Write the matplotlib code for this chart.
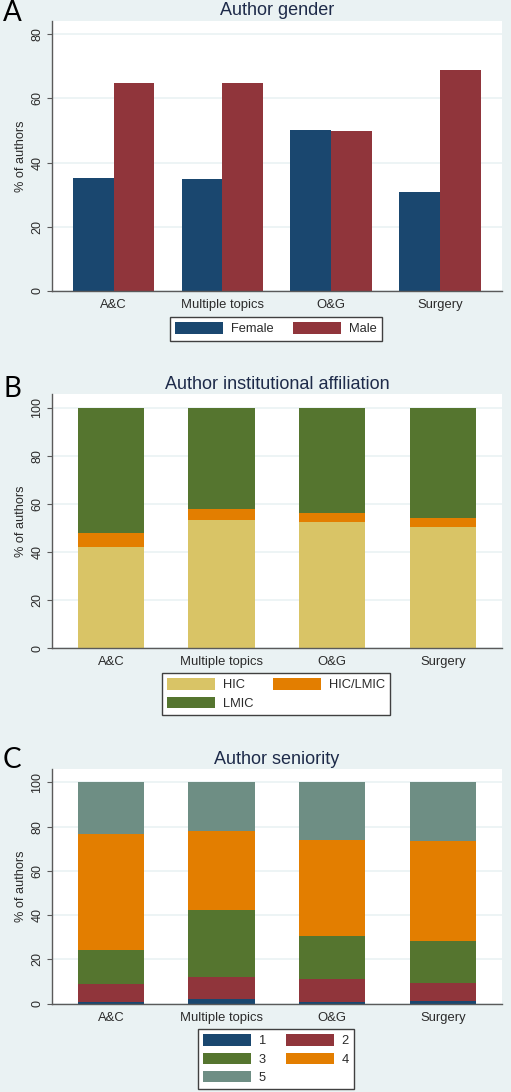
import numpy as np
import matplotlib.pyplot as plt

plt.rcParams['font.family'] = ['Liberation Sans', 'DejaVu Sans']

# ---------------------------------------------------------------#
# data
topics = ['A&C', 'Multiple topics', 'O&G', 'Surgery']

# A  author gender (%)
female = [35.2, 35.0, 50.2, 30.9]
male = [64.7, 64.9, 49.7, 68.9]

# B  institutional affiliation (%)
hic = [42.2, 53.4, 52.4, 50.4]
hic_lmic = [5.8, 4.4, 3.8, 3.8]
lmic = [52.0, 42.2, 43.8, 45.8]

# C  seniority (%)
sen_labels = ['1', '2', '3', '4', '5']
sen1 = [0.9, 2.1, 0.8, 1.2]
sen2 = [7.9, 9.8, 10.4, 8.1]
sen3 = [15.5, 30.4, 19.5, 18.9]
sen4 = [52.2, 35.7, 43.4, 45.1]
sen5 = [23.5, 22.0, 25.9, 26.7]

# ---------------------------------------------------------------#
bg = '#EAF2F3'
navy, maroon, green, orange, teal = '#1A476F', '#90353B', '#55752F', '#E37E00', '#6E8E84'
sand = '#D9C466'
axcol = '#5a5a5a'
txtcol = '#2b2b2b'

W, H = 511, 1092
fig = plt.figure(figsize=(W / 100, H / 100), dpi=100, facecolor=bg)


def px_axes(l, t, r, b):
    return fig.add_axes([l / W, 1 - b / H, (r - l) / W, (b - t) / H])


def style(ax, ymax, ticks, title):
    ax.set_facecolor('white')
    ax.set_ylim(0, ymax)
    ax.set_yticks(ticks)
    ax.yaxis.grid(True, color=bg, lw=1.2)
    ax.set_axisbelow(True)
    for s in ['top', 'right']:
        ax.spines[s].set_visible(False)
    for s in ['left', 'bottom']:
        ax.spines[s].set_color(axcol)
        ax.spines[s].set_linewidth(1)
    ax.tick_params(axis='y', length=3.6, width=0.8, color=axcol, labelsize=9,
                   labelcolor=txtcol, pad=2.5, labelrotation=90)
    for lab in ax.get_yticklabels():
        lab.set_va('center')
    ax.set_xticks(range(len(topics)))
    ax.set_xticklabels(topics)
    ax.tick_params(axis='x', length=0, labelsize=9.4, labelcolor=txtcol, pad=6)
    ax.set_ylabel('% of authors', fontsize=9.2, color=txtcol)
    ax.yaxis.set_label_coords(-0.054, 0.5)
    ax.set_title(title, fontsize=13, color='#1e2b4a', pad=4)


def legend(handles, labels, cx, top, ncol=2):
    lg = fig.legend(handles, labels, loc='upper center', bbox_to_anchor=(cx / W, 1 - top / H),
                    ncol=ncol, fontsize=9.3, handlelength=3.7, handleheight=1.0,
                    handletextpad=0.6, columnspacing=1.55, labelspacing=0.4,
                    borderpad=0.4, borderaxespad=0, fancybox=False, framealpha=1,
                    edgecolor='#404040')
    lg.get_frame().set_linewidth(1)
    for t in lg.get_texts():
        t.set_color(txtcol)
    return lg


x = np.arange(len(topics))

#------------------------------------------------------------------#
# A  gender
ax = px_axes(51.7, 21, 502, 291)
w = 0.375
b1 = ax.bar(x - w / 2, female, w, color=navy, lw=0)
b2 = ax.bar(x + w / 2, male, w, color=maroon, lw=0)
ax.set_xlim(-0.57, 3.57)
style(ax, 84.1, [0, 20, 40, 60, 80], 'Author gender')
legend([b1, b2], ['Female', 'Male'], 276, 317)

#------------------------------------------------------------------#
# B  affiliation
ax = px_axes(51.7, 394.3, 502, 648)
w = 0.6
bottom = np.zeros(len(topics))
bars = []
for vals, col in [(hic, sand), (hic_lmic, orange), (lmic, green)]:
    bars.append(ax.bar(x, vals, w, bottom=bottom, color=col, lw=0))
    bottom = bottom + np.array(vals)
ax.set_xlim(-0.535, 3.535)
style(ax, 105.6, [0, 20, 40, 60, 80, 100], 'Author institutional affiliation')
# row-wise order: HIC, HIC/LMIC / LMIC
legend([bars[0], bars[2], bars[1]], ['HIC', 'LMIC', 'HIC/LMIC'], 276, 673)

#------------------------------------------------------------------#
# C  seniority
ax = px_axes(51.7, 769.3, 502, 1003.7)
bottom = np.zeros(len(topics))
bars = []
for vals, col in zip([sen1, sen2, sen3, sen4, sen5], [navy, maroon, green, orange, teal]):
    bars.append(ax.bar(x, vals, w, bottom=bottom, color=col, lw=0))
    bottom = bottom + np.array(vals)
ax.set_xlim(-0.535, 3.535)
style(ax, 105.9, [0, 20, 40, 60, 80, 100], 'Author seniority')
order = [0, 2, 4, 1, 3]
legend([bars[i] for i in order], [sen_labels[i] for i in order], 276, 1029)

#------------------------------------------------------------------#
# panel letters
for letter, top in [('A', 0), ('B', 376), ('C', 747)]:
    fig.text(3 / W, 1 - top / H, letter, fontsize=20, family='Lato', color='black',
             ha='left', va='top')

fig.savefig('out.png', dpi=100, facecolor=bg)
